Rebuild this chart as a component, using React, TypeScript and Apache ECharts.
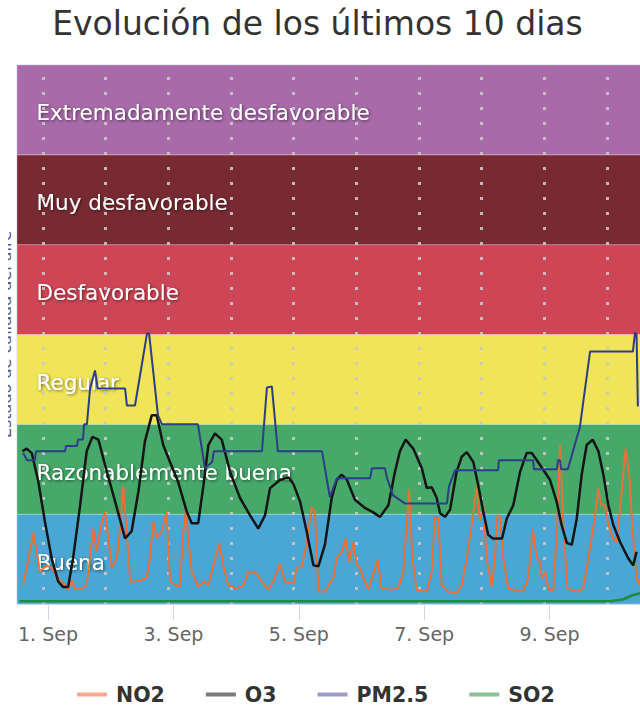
import React, { useEffect, useRef } from "react";
import * as echarts from "echarts";

// ---- data (x: hours since 1 Sep 00:00, y: air-quality level 0..6) ----
const titleText = "Evolución de los últimos 10 dias";
const yAxisTitle = "Estado de calidad del aire";

const bandNames = [
  "Buena",
  "Razonablemente buena",
  "Regular",
  "Desfavorable",
  "Muy desfavorable",
  "Extremadamente desfavorable",
];
const bandColors = ["#4aa6d3", "#46a96a", "#f0e458", "#cd4655", "#772a31", "#a86aa9"];

const tickHours = [0, 48, 96, 144, 192];
const tickLabels = ["1. Sep", "3. Sep", "5. Sep", "7. Sep", "9. Sep"];
const dayLines = [-2, 22, 46, 70, 94, 118, 142, 166, 190, 214];

const seriesNames = ["NO2", "O3", "PM2.5", "SO2"];
const seriesColors = ["#e8703a", "#151515", "#2f3c88", "#1e8c40"];
const legendColors = ["#f7a98c", "#7a7a7a", "#9c9ccb", "#86c495"];

const NO2 = [
  [-9.5, 0.21], [-7.5, 0.51], [-5.6, 0.79], [-4.3, 0.58], [-3.1, 0.36], [-0.5, 0.43], [1.4, 0.4],
  [3.9, 0.29], [6.5, 0.21], [7.8, 0.16], [9.1, 0.27], [10.3, 0.16], [12.9, 0.17], [14.8, 0.21],
  [16.1, 0.51], [17.3, 0.84], [18.6, 0.58], [20.3, 0.88], [21.8, 1.03], [23.1, 0.73], [24.4, 0.4],
  [26.3, 0.51], [27.6, 0.84], [28.8, 1.31], [30.1, 0.81], [31.4, 0.25], [33.3, 0.25], [35.9, 0.27],
  [37.8, 0.29], [39.0, 0.51], [40.3, 0.92], [41.6, 0.73], [43.5, 0.81], [45.4, 1.03], [46.7, 0.25],
  [50.5, 0.19], [51.8, 0.81], [52.8, 1.05], [53.7, 0.73], [55.0, 0.36], [57.5, 0.19], [59.5, 0.25],
  [61.4, 0.21], [63.3, 0.43], [65.6, 0.68], [67.1, 0.43], [69.0, 0.21], [72.2, 0.17], [74.8, 0.21],
  [76.7, 0.36], [79.2, 0.36], [81.8, 0.25], [84.3, 0.16], [86.2, 0.25], [88.8, 0.45], [90.7, 0.25],
  [93.9, 0.23], [95.2, 0.4], [97.1, 0.42], [99.0, 0.66], [100.9, 1.08], [102.2, 1.03], [103.5, 0.14],
  [106.0, 0.14], [109.2, 0.29], [110.5, 0.51], [112.4, 0.58], [114.0, 0.73], [115.2, 0.47],
  [116.9, 0.69], [118.2, 0.43], [119.4, 0.4], [120.7, 0.29], [122.6, 0.16], [124.5, 0.34],
  [126.2, 0.49], [127.7, 0.17], [131.6, 0.16], [134.1, 0.17], [136.0, 0.36], [137.3, 0.88],
  [138.2, 1.28], [139.5, 0.51], [141.1, 0.16], [145.0, 0.14], [146.9, 0.36], [148.1, 0.97],
  [149.4, 0.95], [150.7, 0.21], [153.2, 0.14], [156.4, 0.12], [158.4, 0.21], [160.3, 0.51],
  [162.2, 0.88], [164.1, 1.31], [165.4, 0.92], [166.6, 1.1], [167.9, 0.51], [169.8, 0.19],
  [171.1, 0.51], [172.0, 0.99], [173.0, 0.97], [174.3, 0.51], [176.2, 0.17], [178.1, 0.16],
  [181.9, 0.14], [183.9, 0.29], [185.5, 0.84], [187.1, 0.51], [188.3, 0.47], [189.0, 0.29],
  [190.3, 0.36], [191.5, 0.17], [193.4, 0.14], [195.0, 0.92], [196.0, 1.77], [197.3, 0.88],
  [198.8, 0.17], [202.4, 0.14], [204.9, 0.17], [206.8, 0.51], [208.7, 0.84], [210.7, 1.29],
  [211.6, 1.1], [213.2, 1.1], [214.5, 0.88], [216.2, 0.73], [217.7, 0.69], [219.6, 1.25],
  [221.1, 1.73], [222.5, 1.44], [223.8, 0.81], [225.3, 0.29], [226.3, 0.21],
];

const O3 = [
  [-9.8, 1.7], [-8.2, 1.73], [-6.2, 1.68], [-3.7, 1.36], [-1.2, 0.92], [1.4, 0.51], [3.9, 0.25],
  [5.7, 0.19], [7.7, 0.19], [9.6, 0.51], [12.3, 1.1], [14.8, 1.7], [17.0, 1.86], [19.3, 1.83],
  [21.8, 1.55], [25.7, 1.14], [29.5, 0.73], [32.0, 0.81], [34.6, 1.25], [37.1, 1.81], [39.7, 2.1],
  [41.6, 2.1], [44.1, 1.77], [46.7, 1.58], [49.8, 1.36], [53.1, 1.03], [55.0, 0.9], [57.5, 0.9],
  [59.5, 1.32], [61.4, 1.77], [63.9, 1.9], [66.5, 1.83], [69.7, 1.47], [73.5, 1.18], [77.3, 0.99],
  [80.5, 0.84], [83.1, 0.99], [85.0, 1.29], [88.8, 1.38], [92.0, 1.41], [93.9, 1.34], [96.5, 1.14],
  [99.0, 0.81], [101.6, 0.43], [103.5, 0.42], [106.0, 0.66], [108.6, 1.18], [110.5, 1.38],
  [112.4, 1.44], [114.3, 1.39], [117.5, 1.16], [121.3, 1.07], [124.5, 1.02], [127.1, 0.97],
  [130.3, 1.1], [132.8, 1.47], [134.7, 1.7], [136.9, 1.83], [139.8, 1.73], [143.1, 1.51],
  [145.0, 1.29], [146.9, 1.3], [148.8, 1.18], [150.1, 1.01], [152.0, 0.97], [153.9, 1.05],
  [156.4, 1.47], [158.4, 1.64], [160.3, 1.69], [162.8, 1.58], [164.7, 1.32], [166.6, 1.03],
  [168.5, 0.77], [170.3, 0.73], [173.8, 0.73], [175.6, 0.95], [178.1, 1.1], [180.7, 1.47],
  [183.2, 1.68], [185.2, 1.68], [188.3, 1.55], [192.2, 1.38], [194.7, 1.14], [196.6, 0.88],
  [198.6, 0.68], [200.5, 0.66], [202.4, 0.95], [204.3, 1.44], [206.2, 1.77], [208.5, 1.83],
  [210.7, 1.7], [212.6, 1.44], [214.5, 1.1], [216.4, 0.88], [219.0, 0.69], [222.1, 0.51],
  [224.0, 0.43], [225.3, 0.58],
];

const PM25 = [
  [-9.5, 1.68], [-8.0, 1.6], [-5.0, 1.6], [-4.6, 1.7], [6.5, 1.7], [6.9, 1.76], [11.1, 1.76],
  [11.5, 1.83], [13.4, 1.83], [13.8, 2.0], [14.9, 2.0], [16.1, 2.4], [18.0, 2.6], [19.0, 2.4],
  [29.5, 2.4], [30.2, 2.21], [33.3, 2.21], [37.9, 3.01], [38.7, 3.01], [42.1, 2.1], [43.6, 2.0],
  [57.4, 2.0], [60.1, 1.51], [62.8, 1.58], [63.5, 1.7], [81.9, 1.7], [83.8, 2.41], [85.7, 2.42],
  [88.0, 1.7], [104.9, 1.7], [107.9, 1.19], [110.6, 1.4], [123.3, 1.4], [124.0, 1.51], [129.0, 1.51],
  [129.8, 1.4], [132.1, 1.21], [136.6, 1.12], [152.7, 1.12], [153.5, 1.31], [155.8, 1.49],
  [172.3, 1.49], [172.6, 1.6], [185.7, 1.6], [186.0, 1.5], [194.8, 1.5], [195.2, 1.6], [196.0, 1.6],
  [196.4, 1.5], [199.0, 1.5], [203.6, 1.97], [207.5, 2.81], [223.9, 2.81], [224.7, 3.02],
  [225.3, 3.0], [225.8, 2.2],
];

const SO2 = [
  [-11.0, 0.03], [100.0, 0.03], [215.0, 0.03], [220.0, 0.05], [224.0, 0.1], [226.9, 0.12],
];

const seriesData = [NO2, O3, PM25, SO2];
const seriesWidths = [2, 2.5, 2, 2.5];

export default function App() {
  const ref = useRef<HTMLDivElement>(null);

  useEffect(() => {
    if (!ref.current) return;
    const chart = echarts.init(ref.current, null, { renderer: "svg" });
    const font = "DejaVu Sans";

    const bandsSeries: any = {
      name: "__bands",
      type: "line",
      data: [[-11.87, 0]],
      showSymbol: false,
      symbol: "none",
      silent: true,
      lineStyle: { opacity: 0 },
      z: 1,
      markArea: {
        silent: true,
        z: 0,
        data: bandNames.map((name, i) => [
          {
            name,
            yAxis: i,
            itemStyle: { color: bandColors[i], borderColor: "rgba(255,255,255,0.25)", borderWidth: 1 },
            label: {
              show: true,
              position: "insideLeft",
              distance: 20,
              offset: [0, 3],
              color: "#ffffff",
              fontFamily: font,
              fontSize: 21.5,
              textShadowColor: "rgba(0,0,0,0.55)",
              textShadowBlur: 3,
              textShadowOffsetX: 1,
              textShadowOffsetY: 1,
            },
          },
          { yAxis: i + 1 },
        ]),
      },
      markLine: {
        silent: true,
        z: 1,
        symbol: ["none", "none"],
        label: { show: false },
        lineStyle: { type: [3, 12], width: 3, color: "#c8c8c8", opacity: 0.9, dashOffset: 1 },
        data: dayLines.map((h) => ({ xAxis: h })),
      },
    };

    const lineSeries = seriesNames.map((name, i) => ({
      name,
      type: "line",
      data: seriesData[i],
      showSymbol: false,
      symbol: "none",
      z: 3,
      lineStyle: { color: seriesColors[i], width: seriesWidths[i] },
      itemStyle: { color: seriesColors[i] },
    }));

    chart.setOption({
      animation: false,
      title: {
        text: titleText,
        left: 304.5,
        top: 2,
        textAlign: "center",
        textStyle: { fontFamily: font, fontSize: 33, fontWeight: "normal", color: "#333333" },
      },
      legend: {
        left: 64,
        top: 679,
        itemGap: 41,
        itemWidth: 30,
        itemHeight: 4,
        icon: "rect",
        textStyle: {
          fontFamily: font,
          fontSize: 20.5,
          fontWeight: "bold",
          color: "#333333",
          padding: [0, 0, 0, 4],
        },
        data: seriesNames.map((name, i) => ({ name, itemStyle: { color: legendColors[i] } })),
      },
      grid: {
        left: 9,
        right: -1,
        top: 65,
        bottom: 101,
        containLabel: false,
        outerBoundsMode: "none",
        show: true,
        backgroundColor: "transparent",
        borderColor: "#d3dae6",
        borderWidth: 1,
      },
      xAxis: {
        type: "value",
        min: -11.87,
        max: 227,
        splitLine: { show: false },
        axisLine: { show: true, lineStyle: { color: "#ccd6eb", width: 1 } },
        axisTick: {
          show: true,
          customValues: tickHours,
          length: 16,
          lineStyle: { color: "#ccd6eb", width: 1 },
        },
        axisLabel: {
          customValues: tickHours,
          margin: 20,
          color: "#666666",
          fontFamily: font,
          fontSize: 19,
          formatter: (v: number) => {
            const idx = tickHours.indexOf(Math.round(v));
            return idx >= 0 ? tickLabels[idx] : "";
          },
        },
      },
      yAxis: {
        type: "value",
        min: 0,
        max: 6,
        name: yAxisTitle,
        nameLocation: "middle",
        nameRotate: 90,
        nameGap: 4,
        nameTextStyle: { color: "#4d5a86", fontFamily: font, fontSize: 16 },
        axisLabel: { show: false },
        axisTick: { show: false },
        axisLine: { show: false },
        splitLine: { show: false },
      },
      series: [bandsSeries, ...lineSeries],
    });

    return () => chart.dispose();
  }, []);

  return (
    <div
      ref={ref}
      style={{ position: "absolute", left: 8, top: 0, width: 632, height: 705 }}
    />
  );
}
